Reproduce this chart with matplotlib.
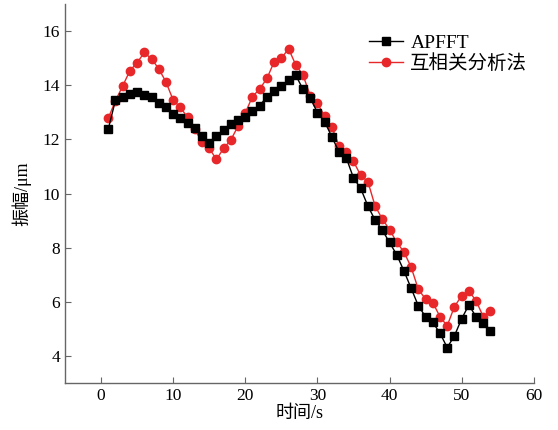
import matplotlib
matplotlib.use("Agg")
import matplotlib.pyplot as plt

plt.rcParams['font.family'] = ['Liberation Serif', 'Noto Sans CJK SC']

t = list(range(1, 55))
apfft = [12.38, 13.45, 13.55, 13.67, 13.76, 13.65, 13.55, 13.35, 13.2, 12.93,
         12.8, 12.6, 12.42, 12.12, 11.88, 12.12, 12.35, 12.57, 12.72, 12.84,
         13.06, 13.25, 13.57, 13.79, 13.97, 14.19, 14.37, 13.85, 13.54, 12.99,
         12.65, 12.1, 11.53, 11.32, 10.58, 10.19, 9.54, 9.02, 8.65, 8.19,
         7.74, 7.14, 6.5, 5.85, 5.45, 5.24, 4.84, 4.31, 4.74, 5.37,
         5.88, 5.45, 5.21, 4.93]
xcorr = [12.78, 13.43, 13.97, 14.54, 14.83, 15.21, 14.97, 14.61, 14.12, 13.45,
         13.18, 12.81, 12.37, 11.9, 11.67, 11.26, 11.67, 11.98, 12.49, 12.98,
         13.58, 13.86, 14.25, 14.86, 14.99, 15.35, 14.75, 14.38, 13.62, 13.33,
         12.86, 12.46, 11.75, 11.53, 11.19, 10.67, 10.44, 9.54, 9.06, 8.67,
         8.2, 7.84, 7.28, 6.46, 6.1, 5.97, 5.45, 5.11, 5.82, 6.22,
         6.4, 6.04, 5.45, 5.67]
labels = ['APFFT', '互相关分析法']
xticks = [0, 10, 20, 30, 40, 50, 60]
yticks = [4, 6, 8, 10, 12, 14, 16]

fig = plt.figure(figsize=(5.58, 4.30), dpi=100)
ax = fig.add_axes([0.1165, 0.1093, 0.84, 0.8814])

ax.plot(t, apfft, color='black', lw=1.0, marker='s', ms=5.3, mfc='black', mec='black', label=labels[0], zorder=3)
ax.plot(t, xcorr, color='#e8272a', lw=1.0, marker='o', ms=6, mfc='#e8272a', mec='#e8272a', label=labels[1], zorder=2)

ax.set_xlim(-5, 60)
ax.set_ylim(3, 17)
ax.set_xticks(xticks)
ax.set_yticks(yticks)
for s in ['top', 'right']:
    ax.spines[s].set_visible(False)
for s in ['left', 'bottom']:
    ax.spines[s].set_color('#666666')
    ax.spines[s].set_linewidth(1.0)
ax.tick_params(direction='in', length=4, width=0.8, color='#666666', labelsize=12.5)
ax.set_xlabel('时间/s', fontsize=13, labelpad=1)
ax.set_ylabel('振幅/μm', fontsize=13, labelpad=8)

leg = ax.legend(loc='upper left', bbox_to_anchor=(0.633, 0.94), frameon=False,
                fontsize=14, handlelength=1.7, handletextpad=0.4, labelspacing=0.1,
                borderaxespad=0)

fig.savefig('out.png', dpi=100)
